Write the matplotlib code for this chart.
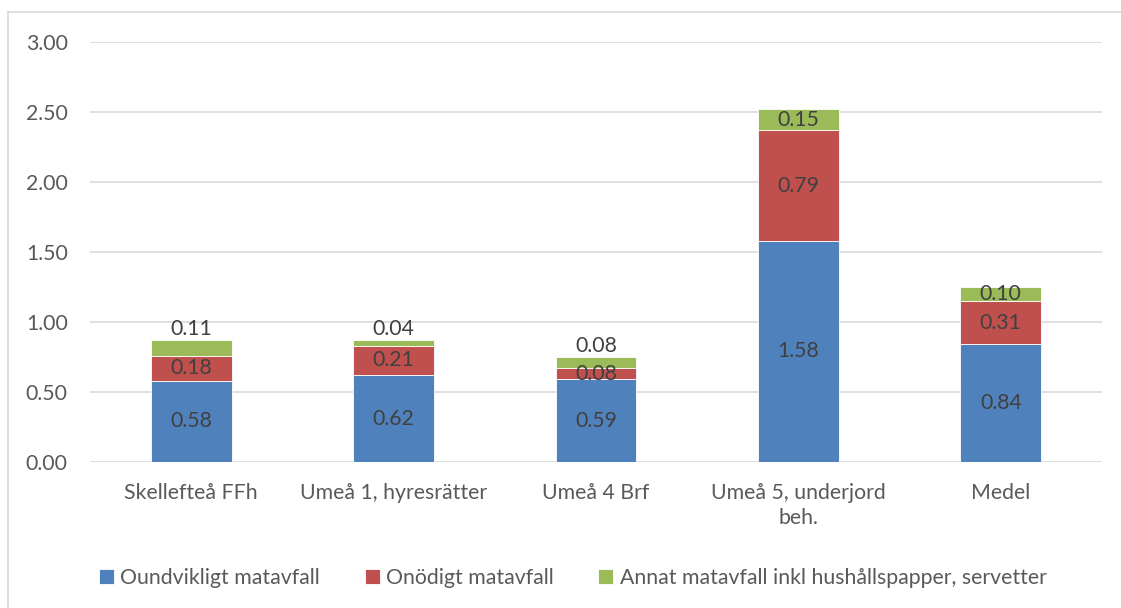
import matplotlib
matplotlib.use('Agg')
import matplotlib.pyplot as plt
from matplotlib.lines import Line2D
import numpy as np

plt.rcParams.update({
    'font.family': ['Lato', 'DejaVu Sans'],
    'font.size': 15.3,
    'text.color': '#404040',
})

categories = ["Skellefteå FFh", "Umeå 1, hyresrätter", "Umeå 4 Brf",
              "Umeå 5, underjord\nbeh.", "Medel"]
series = ["Oundvikligt matavfall", "Onödigt matavfall",
          "Annat matavfall inkl hushållspapper, servetter"]
oundvikligt = [0.58, 0.62, 0.59, 1.58, 0.84]
onodigt = [0.18, 0.21, 0.08, 0.79, 0.31]
annat = [0.11, 0.04, 0.08, 0.15, 0.10]
# top labels that sit above the bar instead of inside the segment
label_above = [True, True, True, False, False]

colors = ['#4F81BD', '#C0504D', '#9BBB59']
values = np.array([oundvikligt, onodigt, annat])
fs = 15.3

fig = plt.figure(figsize=(11.21, 6.08), dpi=100)
ax = fig.add_axes([90/1121, 1 - 462/608, 1012/1121, 420/608])

x = np.arange(len(categories))
bottom = np.zeros(len(categories))
for i, (name, vals) in enumerate(zip(series, values)):
    bars = ax.bar(x, vals, 0.4, bottom=bottom, color=colors[i], label=name,
                  edgecolor='white', linewidth=0.6, zorder=3)
    for j, (bar, v) in enumerate(zip(bars, vals)):
        if i == 2 and label_above[j]:
            ax.annotate(f'{v:.2f}', (bar.get_x() + bar.get_width()/2, bottom[j] + v),
                        xytext=(0, 1), textcoords='offset points',
                        ha='center', va='bottom', color='#404040', zorder=4)
        else:
            ax.text(bar.get_x() + bar.get_width()/2, bottom[j] + v/2, f'{v:.2f}',
                    ha='center', va='center', color='#404040', zorder=4)
    bottom += vals

ax.set_xlim(-0.5, len(categories) - 0.5)
ax.set_ylim(0, 3.0)
ax.set_yticks(np.arange(0, 3.01, 0.5))
ax.set_yticklabels([f'{t:.2f}' for t in np.arange(0, 3.01, 0.5)])
ax.set_xticks(x)
ax.set_xticklabels(categories, linespacing=1.3)
ax.tick_params(axis='both', length=0, colors='#595959', labelsize=fs)
ax.tick_params(axis='x', pad=15)
ax.tick_params(axis='y', pad=16)
ax.grid(axis='y', color='#D9D9D9', linewidth=1.2, zorder=0)
for s in ax.spines.values():
    s.set_visible(False)

leg = fig.legend(loc='center', bbox_to_anchor=(0.511, 1 - 578/608), ncol=3,
                 frameon=False, handlelength=0.7, handleheight=0.7,
                 handletextpad=0.3, columnspacing=2.1, fontsize=fs)
for t in leg.get_texts():
    t.set_color('#595959')

# outer chart frame (top and left edges)
fig.add_artist(Line2D([8/1121, 8/1121], [0, 1 - 12/608], color='#D9D9D9',
                      linewidth=1.2, transform=fig.transFigure))
fig.add_artist(Line2D([8/1121, 1], [1 - 12/608, 1 - 12/608], color='#D9D9D9',
                      linewidth=1.2, transform=fig.transFigure))

fig.savefig('out.png', dpi=100)
